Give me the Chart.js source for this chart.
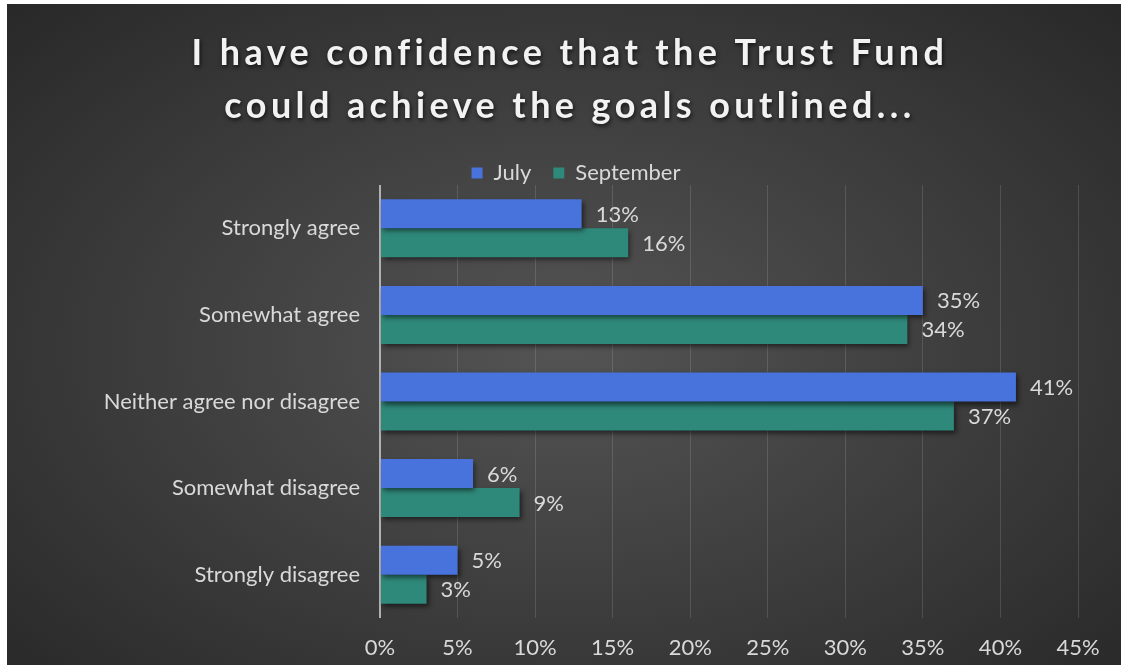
<!DOCTYPE html>
<html>
<head>
<meta charset="utf-8">
<script src="https://cdn.jsdelivr.net/npm/chart.js@4"></script>
<style>
  html, body { margin: 0; padding: 0; background: #282828; width: 100%; height: 100%; overflow: hidden; }
  #edgeLeft { position: absolute; left: 0; top: 0; bottom: 0; width: 7px; background: #fff; }
  #edgeTop { position: absolute; left: 0; top: 0; right: 0; height: 4px; background: #fff; }
  #wrap {
    position: absolute; left: 7px; top: 4px; width: 1114px; height: 661px;
    background: radial-gradient(ellipse 70% 75% at 50% 52%, #545454 0%, #3c3c3c 55%, #282828 100%);
  }
</style>
</head>
<body>
<div id="edgeLeft"></div><div id="edgeTop"></div>
<div id="wrap"><canvas id="chart"></canvas></div>
<script>
// Survey answers and the share of respondents per month
const categories = ['Strongly agree', 'Somewhat agree', 'Neither agree nor disagree', 'Somewhat disagree', 'Strongly disagree'];
const july = [13, 35, 41, 6, 5];
const september = [16, 34, 37, 9, 3];
const titleLines = ['I have confidence that the Trust Fund', 'could achieve the goals outlined...'];
const textColor = '#d9d9d9';
const fontFamily = 'Lato';

// Title with letter spacing and a soft shadow
const titlePlugin = {
  id: 'spacedTitle',
  afterDraw(chart) {
    const ctx = chart.ctx;
    ctx.save();
    ctx.font = 'bold 36px ' + fontFamily;
    ctx.fillStyle = '#f2f2f2';
    ctx.textAlign = 'center';
    ctx.textBaseline = 'middle';
    ctx.letterSpacing = '4.4px';
    ctx.shadowColor = 'rgba(0,0,0,0.7)';
    ctx.shadowBlur = 4;
    ctx.shadowOffsetX = 1;
    ctx.shadowOffsetY = 2;
    titleLines.forEach((line, i) => {
      ctx.fillText(line, chart.width / 2 + 6, 49 + i * 53);
    });
    ctx.restore();
  }
};

// Drop shadow under the bars
const barShadow = {
  id: 'barShadow',
  beforeDatasetsDraw(chart) {
    const ctx = chart.ctx;
    ctx.save();
    ctx.shadowColor = 'rgba(0,0,0,0.55)';
    ctx.shadowBlur = 5;
    ctx.shadowOffsetX = 2;
    ctx.shadowOffsetY = 3;
  },
  afterDatasetsDraw(chart) {
    chart.ctx.restore();
  }
};

// Percent labels to the right of each bar
const valueLabels = {
  id: 'valueLabels',
  afterDatasetsDraw(chart) {
    const ctx = chart.ctx;
    ctx.save();
    ctx.font = '22px ' + fontFamily;
    ctx.fillStyle = textColor;
    ctx.textAlign = 'left';
    ctx.textBaseline = 'middle';
    chart.data.datasets.forEach((ds, i) => {
      chart.getDatasetMeta(i).data.forEach((bar, j) => {
        ctx.fillText(ds.data[j] + '%', bar.x + 14, bar.y + 1);
      });
    });
    ctx.restore();
  }
};

const ctx = document.getElementById('chart').getContext('2d');
const chart = new Chart(ctx, {
  type: 'bar',
  data: {
    labels: categories,
    datasets: [
      { label: 'July', data: july, backgroundColor: '#4873dc' },
      { label: 'September', data: september, backgroundColor: '#2f897a' }
    ]
  },
  options: {
    indexAxis: 'y',
    responsive: true,
    maintainAspectRatio: false,
    animation: false,
    layout: { padding: { top: 136, left: 24, right: 0 } },
    datasets: { bar: { barPercentage: 1, categoryPercentage: 0.67 } },
    plugins: {
      title: { display: false },
      tooltip: { enabled: false },
      legend: {
        position: 'top',
        maxHeight: 45,
        labels: {
          color: textColor,
          font: { family: fontFamily, size: 22 },
          boxWidth: 11,
          boxHeight: 11,
          padding: 22
        }
      }
    },
    scales: {
      x: {
        min: 0,
        max: 45,
        ticks: {
          stepSize: 5,
          color: textColor,
          font: { family: fontFamily, size: 22 },
          padding: 17,
          callback: v => v + '%'
        },
        grid: {
          drawTicks: false,
          color: c => c.tick && c.tick.value === 0 ? '#b0b0b0' : 'rgba(255,255,255,0.13)',
          lineWidth: c => c.tick && c.tick.value === 0 ? 2 : 1
        },
        border: { display: false },
        afterFit: s => { s.height = 47; }
      },
      y: {
        ticks: {
          color: textColor,
          font: { family: fontFamily, size: 22 },
          padding: 20
        },
        grid: { display: false, drawTicks: false },
        border: { display: false },
        afterFit: s => { s.width = 349; }
      },
      // empty right-hand strip that keeps the plot clear of the edge
      yRight: {
        position: 'right',
        ticks: { display: false },
        grid: { display: false, drawTicks: false },
        border: { display: false },
        afterFit: s => { s.width = 43; }
      }
    }
  },
  plugins: [titlePlugin, barShadow, valueLabels]
});
</script>
</body>
</html>
